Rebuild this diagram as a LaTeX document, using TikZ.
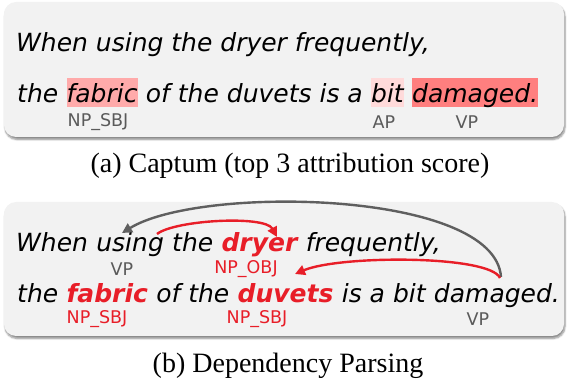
\documentclass[tikz,border=0pt]{standalone}
\usepackage{fontspec}
\usetikzlibrary{shadows.blur,arrows.meta}
\newfontfamily\wfont{DejaVu Sans}
\newfontfamily\capfont{Liberation Serif}
\definecolor{boxgray}{RGB}{242,242,242}
\definecolor{hlA}{RGB}{255,170,170}
\definecolor{hlB}{RGB}{255,218,218}
\definecolor{hlC}{RGB}{255,127,127}
\definecolor{dred}{RGB}{232,30,40}
\definecolor{lblgray}{RGB}{90,90,90}
\definecolor{arcgray}{RGB}{95,95,95}
\begin{document}
\begin{tikzpicture}[x=1pt,y=-1pt,
  panel/.style={fill=boxgray, rounded corners=12pt,
    blur shadow={shadow xshift=1pt, shadow yshift=-2.5pt, shadow blur steps=6, shadow opacity=45}},
  wd/.style={inner sep=0pt, anchor=base west, font=\fontsize{25}{30}\selectfont\wfont\itshape},
  hl/.style={wd, text height=25pt, text depth=4pt},
  key/.style={wd, font=\fontsize{25}{30}\selectfont\wfont\bfseries\itshape, text=dred},
  lbl/.style={inner sep=0pt, font=\fontsize{17.5}{20}\selectfont\wfont, text=lblgray},
  rlbl/.style={lbl, text=dred},
  captxt/.style={inner sep=0pt, anchor=base, font=\fontsize{28}{32}\selectfont\capfont},
  arcg/.style={line width=2.4pt, draw=arcgray, -{Triangle[length=10pt,width=10pt]}},
  arcr/.style={line width=2.4pt, draw=dred, -{Triangle[length=10pt,width=10pt]}}
]
\useasboundingbox (0,0) rectangle (568,387);
\def\sp{7.95pt}
% ---------- panel (a)
\path[panel] (4,2) rectangle (564,137);
\node[wd] (a1) at (16,52) {When using the dryer frequently,};
\node[wd] (a2) at (17,103) {the};
\node[hl, fill=hlA] (afab) at ([xshift=\sp]a2.base east) {fabric};
\node[wd] (a3) at ([xshift=\sp]afab.base east) {of the duvets is a};
\node[hl, fill=hlB] (abit) at ([xshift=\sp]a3.base east) {bit};
\node[hl, fill=hlC] (admg) at ([xshift=\sp]abit.base east) {damaged.};
\node[lbl] (la1) at (98,122) {NP\_SBJ};
\node[lbl] (la2) at (384,122) {AP};
\node[lbl] (la3) at (467,122) {VP};
\node[captxt] (capa) at (290,173) {(a) Captum (top 3 attribution score)};
% ---------- panel (b)
\path[panel] (4,202) rectangle (564,336);
\node[wd] (b1) at (16,252) {When};
\node[wd] (busing) at ([xshift=\sp]b1.base east) {using};
\node[wd] (bthe) at ([xshift=\sp]busing.base east) {the};
\node[key] (bdryer) at ([xshift=\sp]bthe.base east) {dryer};
\node[wd] (bfreq) at ([xshift=\sp]bdryer.base east) {frequently,};
\node[wd] (b2) at (17,303) {the};
\node[key] (bfab) at ([xshift=\sp]b2.base east) {fabric};
\node[wd] (b3) at ([xshift=\sp]bfab.base east) {of the};
\node[key] (bduv) at ([xshift=\sp]b3.base east) {duvets};
\node[wd] (b4) at ([xshift=\sp]bduv.base east) {is a bit};
\node[wd] (bdmg) at ([xshift=\sp]b4.base east) {damaged.};
\node[lbl] (lb1) at (122,269) {VP};
\node[rlbl] (lb2) at (246,269) {NP\_OBJ};
\node[rlbl] (lb3) at (97,319) {NP\_SBJ};
\node[rlbl] (lb4) at (257,319) {NP\_SBJ};
\node[lbl] (lb5) at (478,319) {VP};
\coordinate (gs) at (501,277);
\coordinate (ge) at (122,233);
\coordinate (rs) at (157,234);
\coordinate (re) at (277,237);
\coordinate (r2s) at (500,278);
\coordinate (r2e) at (295,274);
\draw[arcg] (gs) .. controls (495,190) and (200,185) .. (ge);
\draw[arcr] (rs) .. controls (175,220) and (265,215) .. (re);
\draw[arcr] (r2s) .. controls (490,255) and (340,255) .. (r2e);
\node[captxt] (capb) at (288,373) {(b) Dependency Parsing};
\end{tikzpicture}
\end{document}
